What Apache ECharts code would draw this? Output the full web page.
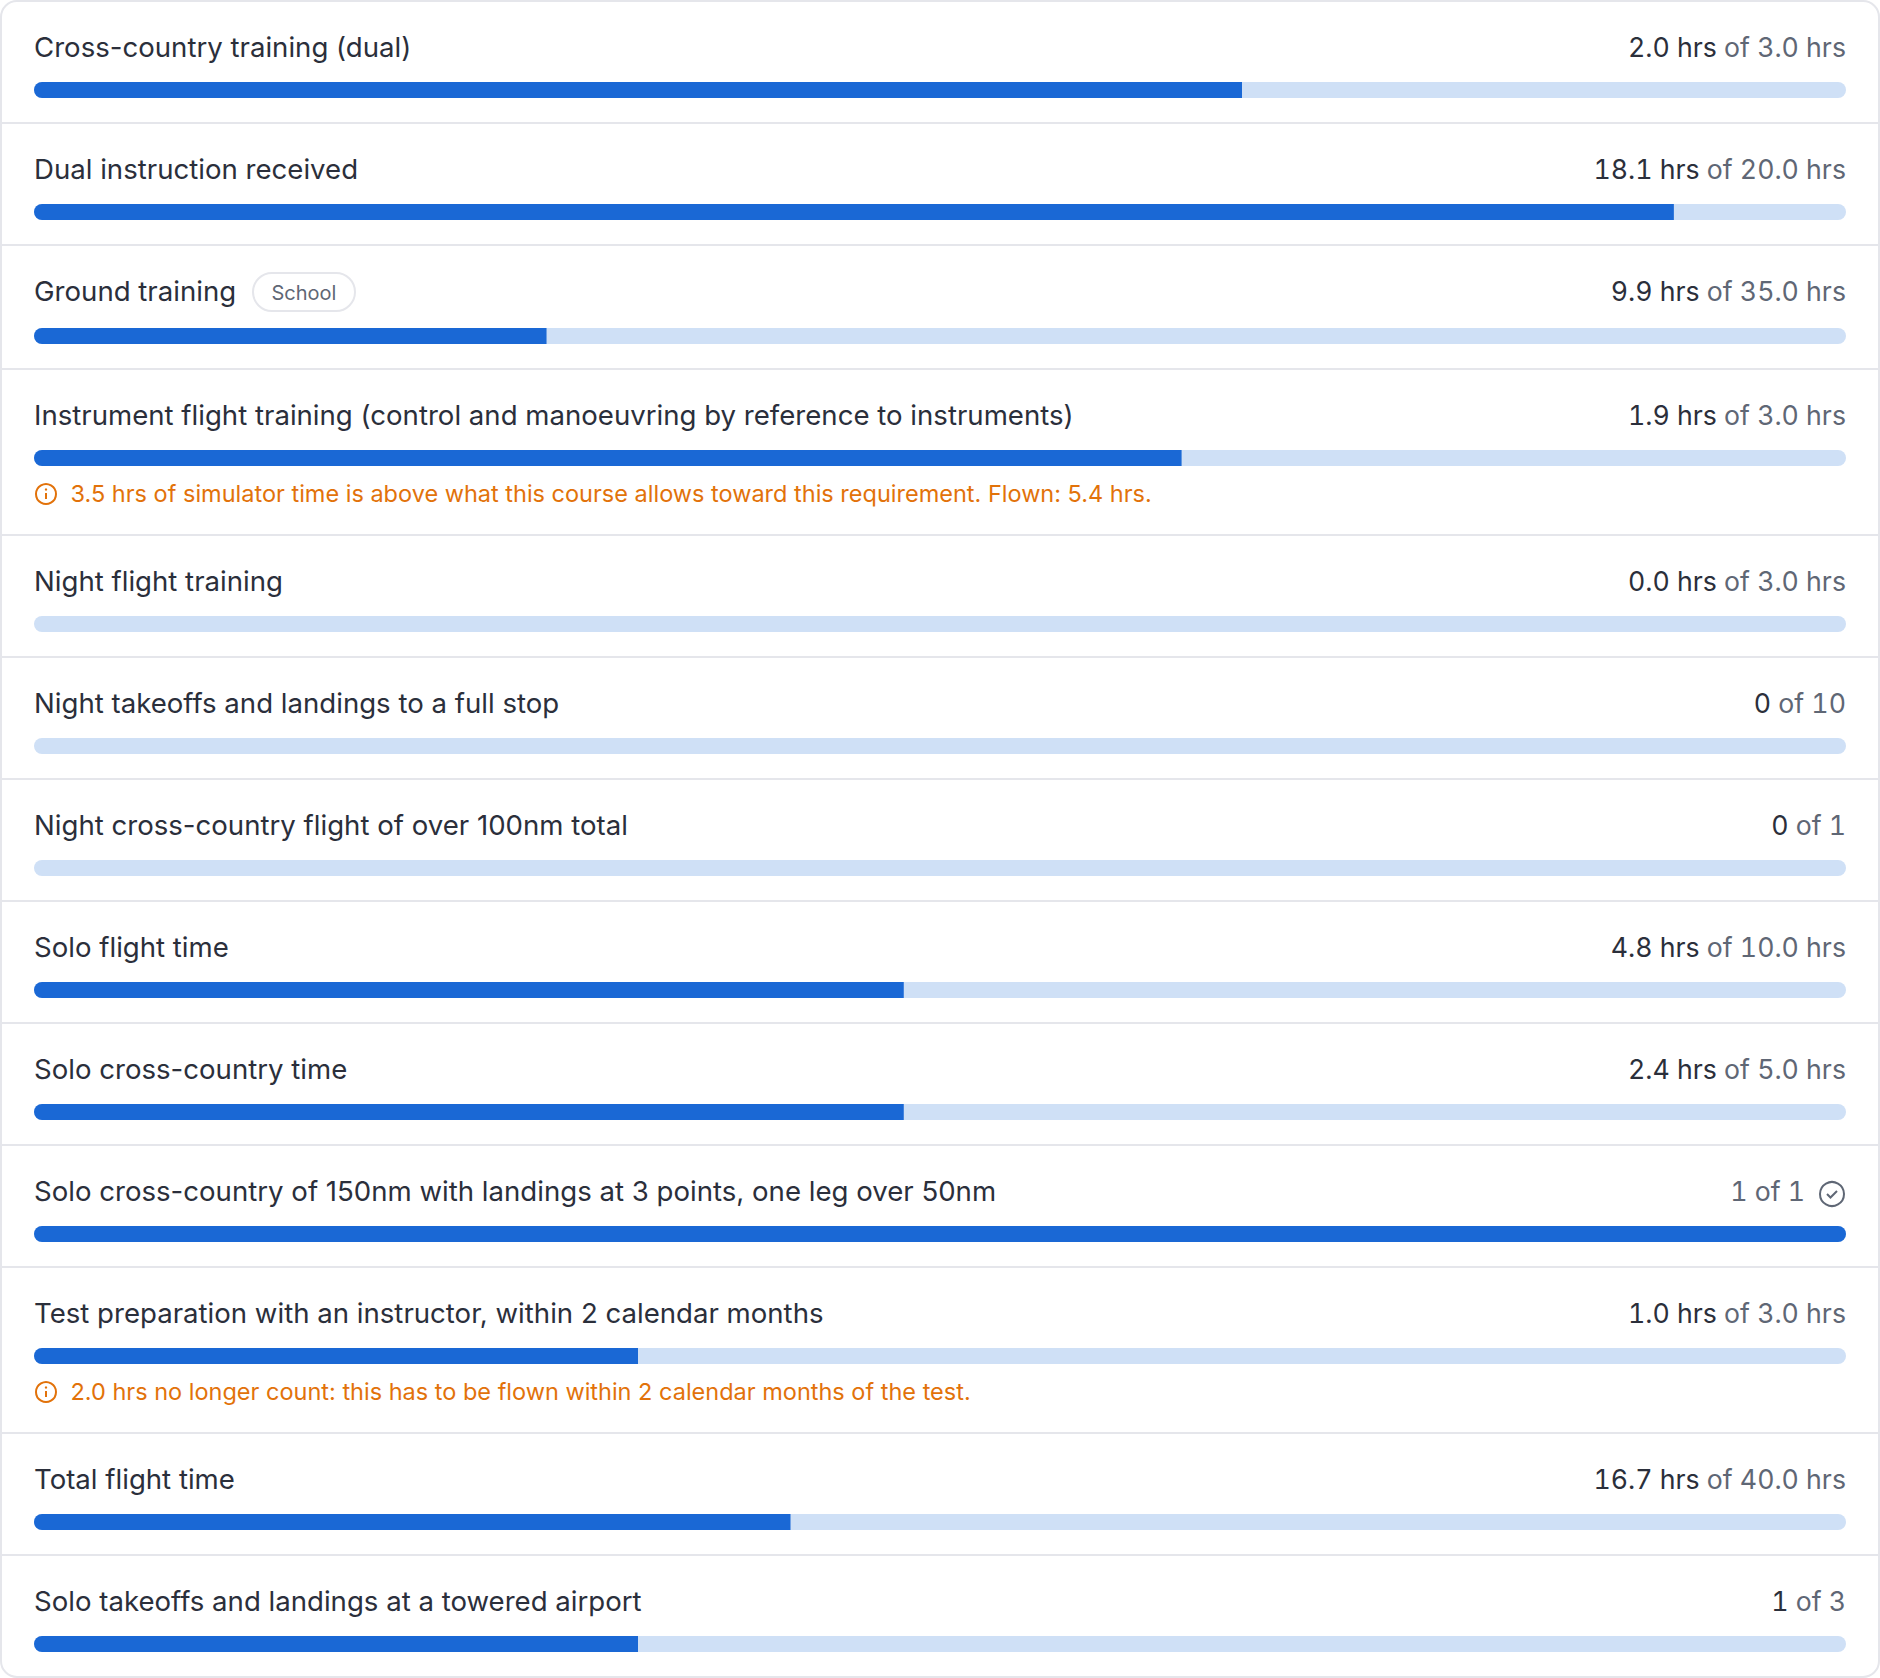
<!DOCTYPE html>
<html lang="en">

<head>
    <meta charset="UTF-8">
    <title>Training requirements</title>
    <script src="https://cdn.jsdelivr.net/npm/echarts@6/dist/echarts.min.js"></script>
    <style>
        html, body { margin: 0; padding: 0; background: #fff; overflow: hidden; }
        /* the hours on the right use tabular digits */
        text[text-anchor="end"] { font-feature-settings: "tnum" !important; }
    </style>
</head>

<body>
    <div id="main" style="width: 1880px;height:1678px;"></div>
    <script type="text/javascript">
        // Requirement rows, top to bottom
        const rowNames = [
            'Cross-country training (dual)',
            'Dual instruction received',
            'Ground training',
            'Instrument flight training (control and manoeuvring by reference to instruments)',
            'Night flight training',
            'Night takeoffs and landings to a full stop',
            'Night cross-country flight of over 100nm total',
            'Solo flight time',
            'Solo cross-country time',
            'Solo cross-country of 150nm with landings at 3 points, one leg over 50nm',
            'Test preparation with an instructor, within 2 calendar months',
            'Total flight time',
            'Solo takeoffs and landings at a towered airport'
        ];
        const doneValues = [2.0, 18.1, 9.9, 1.9, 0.0, 0, 0, 4.8, 2.4, 1, 1.0, 16.7, 1];
        const targetValues = [3.0, 20.0, 35.0, 3.0, 3.0, 10, 1, 10.0, 5.0, 1, 3.0, 40.0, 3];
        const doneLabels = ['2.0 hrs', '18.1 hrs', '9.9 hrs', '1.9 hrs', '0.0 hrs', '0', '0', '4.8 hrs', '2.4 hrs', '1', '1.0 hrs', '16.7 hrs', '1'];
        const targetLabels = ['of 3.0 hrs', 'of 20.0 hrs', 'of 35.0 hrs', 'of 3.0 hrs', 'of 3.0 hrs', 'of 10', 'of 1', 'of 10.0 hrs', 'of 5.0 hrs', 'of 1', 'of 3.0 hrs', 'of 40.0 hrs', 'of 3'];
        const rowTags = { 2: 'School' };
        const rowNotes = {
            3: '3.5 hrs of simulator time is above what this course allows toward this requirement. Flown: 5.4 hrs.',
            10: '2.0 hrs no longer count: this has to be flown within 2 calendar months of the test.'
        };

        const FONT = 'Inter, "Noto Sans", sans-serif';
        const NAME_FONT = '27.6px ' + FONT;
        const VALUE_FONT = '26.7px ' + FONT;
        const NOTE_FONT = '23.5px ' + FONT;
        const DARK = '#2b2f3b';
        const GREY = '#5f6775';
        const ORANGE = '#e2720a';
        const LINE = '#e5e6eb';
        const BLUE = '#1a68d5';
        const TRACK = '#cfe0f6';
        const LEFT = 34, RIGHT = 1846, BAR_H = 16;

        let myChart = echarts.init(document.getElementById('main'), null, { renderer: 'svg' });

        // Width of right hand text, canvas measureText knows nothing about tabular digits
        function valueWidth(text) {
            const span = document.createElement('span');
            span.style.cssText = 'position:absolute;visibility:hidden;white-space:pre;';
            span.style.font = VALUE_FONT;
            span.style.fontFeatureSettings = '"tnum"';
            span.textContent = text;
            document.body.appendChild(span);
            const w = span.getBoundingClientRect().width;
            span.remove();
            return w;
        }

        // Work out where each row starts
        let tops = [];
        let y = 2;
        rowNames.forEach((name, i) => {
            tops.push(y);
            y += 122 + (rowNotes[i] ? 44 : 0) + (rowTags[i] ? 2 : 0);
        });

        let graphics = [{
            type: 'rect',
            shape: { x: 1, y: 1, width: 1878, height: 1676, r: 16 },
            style: { fill: '#fff', stroke: LINE, lineWidth: 2 },
            z: -10
        }];
        let grids = [], xAxes = [], yAxes = [], series = [];

        rowNames.forEach((name, i) => {
            const top = tops[i];
            const barTop = top + 80 + (rowTags[i] ? 2 : 0);
            const textY = top + 44.5;
            const complete = doneValues[i] >= targetValues[i];

            grids.push({ left: LEFT, width: RIGHT - LEFT, top: barTop, height: BAR_H });
            xAxes.push({ type: 'value', gridIndex: i, min: 0, max: targetValues[i], show: false });
            yAxes.push({ type: 'category', gridIndex: i, data: [name], show: false });
            series.push({
                type: 'bar',
                xAxisIndex: i,
                yAxisIndex: i,
                barWidth: BAR_H,
                data: [doneValues[i]],
                silent: true,
                showBackground: true,
                backgroundStyle: { color: TRACK, borderRadius: 8 },
                itemStyle: { color: BLUE, borderRadius: complete ? 8 : [8, 0, 0, 8] }
            });

            graphics.push({
                type: 'text',
                style: { text: name, x: LEFT, y: textY, font: NAME_FONT, fill: DARK, verticalAlign: 'middle' }
            });

            if (complete) {
                // finished rows are all grey, with a tick icon after the text
                graphics.push({
                    type: 'text',
                    style: {
                        text: doneLabels[i] + ' ' + targetLabels[i], x: 1805, y: textY,
                        font: VALUE_FONT, fill: GREY, align: 'right', verticalAlign: 'middle'
                    }
                });
                graphics.push({
                    type: 'circle',
                    shape: { cx: 1832, cy: textY + 3.5, r: 12 },
                    style: { fill: 'none', stroke: GREY, lineWidth: 2 }
                });
                graphics.push({
                    type: 'polyline',
                    shape: { points: [[1827, textY + 3.5], [1830.5, textY + 7], [1837, textY + 0.5]] },
                    style: { fill: 'none', stroke: GREY, lineWidth: 2 }
                });
            } else {
                const targetText = ' ' + targetLabels[i];
                graphics.push({
                    type: 'text',
                    style: {
                        text: targetLabels[i], x: RIGHT, y: textY,
                        font: VALUE_FONT, fill: GREY, align: 'right', verticalAlign: 'middle'
                    }
                });
                graphics.push({
                    type: 'text',
                    style: {
                        text: doneLabels[i], x: RIGHT - valueWidth(targetText), y: textY,
                        font: VALUE_FONT, fill: DARK, align: 'right', verticalAlign: 'middle'
                    }
                });
            }

            if (rowTags[i]) {
                graphics.push({
                    type: 'rect',
                    shape: { x: 253, y: top + 27, width: 102, height: 38, r: 19 },
                    style: { fill: '#fff', stroke: LINE, lineWidth: 2 }
                });
                graphics.push({
                    type: 'text',
                    style: {
                        text: rowTags[i], x: 304, y: top + 47, font: '20px ' + FONT, fill: GREY,
                        align: 'center', verticalAlign: 'middle'
                    }
                });
            }

            if (rowNotes[i]) {
                const noteY = barTop + 44;
                graphics.push({
                    type: 'circle',
                    shape: { cx: 46, cy: noteY, r: 10 },
                    style: { fill: 'none', stroke: ORANGE, lineWidth: 2 }
                });
                graphics.push({
                    type: 'line',
                    shape: { x1: 46, y1: noteY - 1, x2: 46, y2: noteY + 5 },
                    style: { stroke: ORANGE, lineWidth: 2 }
                });
                graphics.push({
                    type: 'circle',
                    shape: { cx: 46, cy: noteY - 4.5, r: 1.2 },
                    style: { fill: ORANGE }
                });
                graphics.push({
                    type: 'text',
                    style: { text: rowNotes[i], x: 70.5, y: noteY - 0.5, font: NOTE_FONT, fill: ORANGE, verticalAlign: 'middle' }
                });
            }

            // separator under every row but the last
            if (i < rowNames.length - 1) {
                const lineY = tops[i + 1] - 1;
                graphics.push({
                    type: 'line',
                    shape: { x1: 2, y1: lineY, x2: 1878, y2: lineY },
                    style: { stroke: LINE, lineWidth: 2 }
                });
            }
        });

        let options = {
            animation: false,
            backgroundColor: '#fff',
            grid: grids,
            xAxis: xAxes,
            yAxis: yAxes,
            series: series,
            graphic: { elements: graphics }
        };
        myChart.setOption(options);
    </script>
</body>

</html>
